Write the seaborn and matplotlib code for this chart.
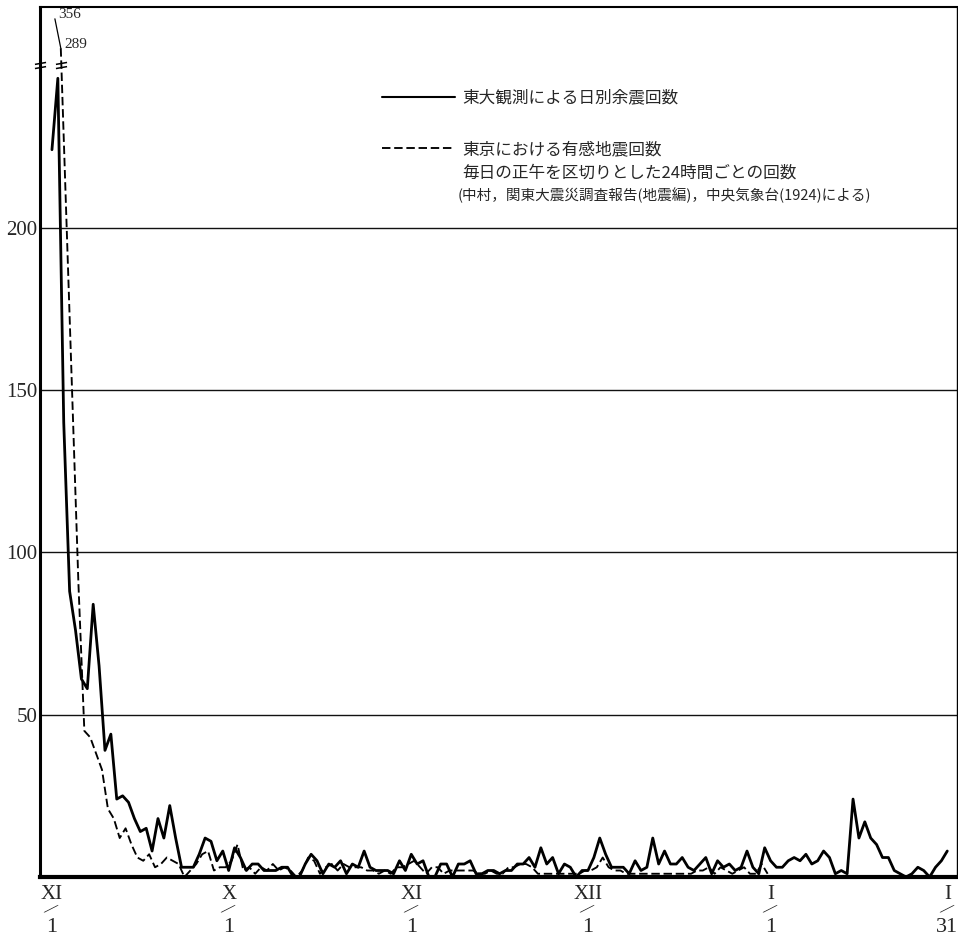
import numpy as np
import seaborn as sns
import matplotlib
matplotlib.use('Agg')
import matplotlib.pyplot as plt
from matplotlib.path import Path


sns.set_style('white')
plt.rcParams['font.family'] = ['Noto Sans CJK JP', 'DejaVu Sans']

# 東大観測による日別余震回数 (9/1 から 1/31 まで、1日ごと)
todai_counts = [
    224, 246, 140, 88, 76, 61, 58, 84, 65, 39,
    44, 24, 25, 23, 18, 14, 15, 8, 18, 12,
    22, 12, 3, 3, 3, 7, 12, 11, 5, 8,
    2, 9, 6, 2, 4, 4, 2, 2, 2, 3,
    3, 0, 0, 4, 7, 5, 1, 4, 3, 5,
    1, 4, 3, 8, 3, 2, 2, 2, 1, 5,
    2, 7, 4, 5, 0, 0, 4, 4, 0, 4,
    4, 5, 1, 1, 2, 2, 1, 2, 2, 4,
    4, 6, 3, 9, 4, 6, 1, 4, 3, 0,
    2, 2, 6, 12, 7, 3, 3, 3, 1, 5,
    2, 3, 12, 4, 8, 4, 4, 6, 3, 2,
    4, 6, 1, 5, 3, 4, 2, 3, 8, 3,
    1, 9, 5, 3, 3, 5, 6, 5, 7, 4,
    5, 8, 6, 1, 2, 1, 24, 12, 17, 12,
    10, 6, 6, 2, 1, 0, 1, 3, 2, 0,
    3, 5, 8,
]

# 東京における有感地震回数 (正午区切り、12/31 まで)
tokyo_counts = [
    356, 289, 200, 145, 90, 45, 43, 38, 33, 21,
    18, 12, 15, 10, 6, 5, 7, 3, 4, 6,
    5, 4, 0, 2, 4, 7, 8, 2, 3, 3,
    5, 10, 2, 3, 1, 3, 2, 4, 2, 3,
    2, 0, 2, 6, 5, 1, 3, 4, 2, 4,
    3, 3, 3, 2, 2, 1, 2, 1, 3, 3,
    4, 5, 3, 1, 3, 3, 1, 2, 2, 2,
    2, 2, 1, 1, 2, 1, 1, 3, 3, 4,
    4, 3, 1, 1, 1, 1, 1, 1, 1, 1,
    2, 2, 3, 6, 3, 2, 2, 1, 1, 1,
    1, 1, 1, 1, 1, 1, 1, 1, 1, 2,
    2, 3, 1, 3, 2, 1, 2, 3, 1, 1,
    4, 1,
]

tick_days = [0, 30, 61, 91, 122, 152]
tick_months = ['XI', 'X', 'XI', 'XII', 'I', 'I']
tick_dates = ['1', '1', '1', '1', '1', '31']
y_ticks = [50, 100, 150, 200]

label_todai = '東大観測による日別余震回数'
label_tokyo = '東京における有感地震回数'
note_1 = '毎日の正午を区切りとした24時間ごとの回数'
note_2 = '(中村，関東大震災調査報告(地震編)，中央気象台(1924)による)'

BREAK = 250
SQUEEZE = 0.135


def forward(v):
    v = np.asarray(v, dtype=float)
    return np.where(v <= BREAK, v, BREAK + (v - BREAK) * SQUEEZE)


def inverse(u):
    u = np.asarray(u, dtype=float)
    return np.where(u <= BREAK, u, BREAK + (u - BREAK) / SQUEEZE)


def main():
    todai_x = np.arange(len(todai_counts))
    tokyo_x = np.arange(len(tokyo_counts)) + 0.5  # 正午区切りなので半日ずらす

    fig = plt.figure(figsize=(9.58, 9.36), dpi=100)
    ax = fig.add_axes([40 / 958, 59 / 936, 917 / 958, 870 / 936])
    ax.set_yscale('function', functions=(forward, inverse))

    sns.lineplot(x=todai_x, y=todai_counts, ax=ax, color='black', lw=2.0,
                 label=label_todai)
    sns.lineplot(x=tokyo_x[:2], y=tokyo_counts[:2], ax=ax, color='black', lw=0.9)
    sns.lineplot(x=tokyo_x[1:], y=tokyo_counts[1:], ax=ax, color='black', lw=1.35,
                 linestyle=(0, (4.5, 2.0)), label=label_tokyo)

    ax.set_xlim(-2.03, 153.65)
    ax.set_ylim(0, 383)
    ax.set_yticks(y_ticks)
    ax.set_yticklabels([str(t) for t in y_ticks], family='Liberation Serif', fontsize=15)
    ax.tick_params(axis='y', length=0, pad=2)
    ax.set_xticks(tick_days)
    ax.set_xticklabels([])
    ax.tick_params(axis='x', length=0)
    ax.yaxis.grid(True, color='#111111', lw=1.0)
    ax.xaxis.grid(False)
    ax.set_xlabel('')
    ax.set_ylabel('')

    for side, lw in [('left', 2.2), ('bottom', 3.0), ('top', 1.5), ('right', 1.0)]:
        ax.spines[side].set_visible(True)
        ax.spines[side].set_color('black')
        ax.spines[side].set_linewidth(lw)

    # 月/日 のラベル
    for d, mon, day in zip(tick_days, tick_months, tick_dates):
        ax.annotate(mon, xy=(d, 0), xycoords=('data', 'axes fraction'),
                    xytext=(0, -12.5), textcoords='offset points', ha='center', va='center',
                    family='Liberation Serif', fontsize=15)
        ax.annotate('—', xy=(d, 0), xycoords=('data', 'axes fraction'),
                    xytext=(-0.5, -23), textcoords='offset points', ha='center', va='center',
                    family='DejaVu Serif', fontsize=12.5, rotation=27)
        ax.annotate(day, xy=(d, 0), xycoords=('data', 'axes fraction'),
                    xytext=(0, -36), textcoords='offset points', ha='center', va='center',
                    family='Liberation Serif', fontsize=16)

    # 軸の省略記号
    brk = Path([(-1, -0.55), (1, -0.2), (-1, 0.2), (1, 0.55)],
               [Path.MOVETO, Path.LINETO, Path.MOVETO, Path.LINETO])
    u1, u2 = forward(tokyo_counts[1]), forward(tokyo_counts[2])
    t = (u1 - BREAK) / (u1 - u2)
    x_cross = tokyo_x[1] + t * (tokyo_x[2] - tokyo_x[1])
    ax.plot([ax.get_xlim()[0], x_cross], [BREAK, BREAK], ls='none', marker=brk,
            markersize=8, markeredgewidth=1.1, color='black', clip_on=False, zorder=5)

    for i in [0, 1]:
        ax.annotate(str(tokyo_counts[i]), xy=(tokyo_x[i], tokyo_counts[i]),
                    xytext=(2.5, 3), textcoords='offset points', ha='left', va='center',
                    family='Liberation Serif', fontsize=11)

    leg = ax.legend(loc='upper left', bbox_to_anchor=(0.373, 0.905), frameon=False,
                    fontsize=12, handlelength=4.4, handletextpad=0.4,
                    labelspacing=2.05, borderaxespad=0, borderpad=0)
    for line in leg.get_lines():
        line.set_color('black')
    leg.get_lines()[0].set_linewidth(1.5)
    ax.text(0.460, 0.809, note_1, transform=ax.transAxes, fontsize=12, va='center', ha='left')
    ax.text(0.455, 0.784, note_2, transform=ax.transAxes, fontsize=10.5, va='center', ha='left')

    fig.savefig('out.png', dpi=100)
    plt.close(fig)


if __name__ == '__main__':
    main()
